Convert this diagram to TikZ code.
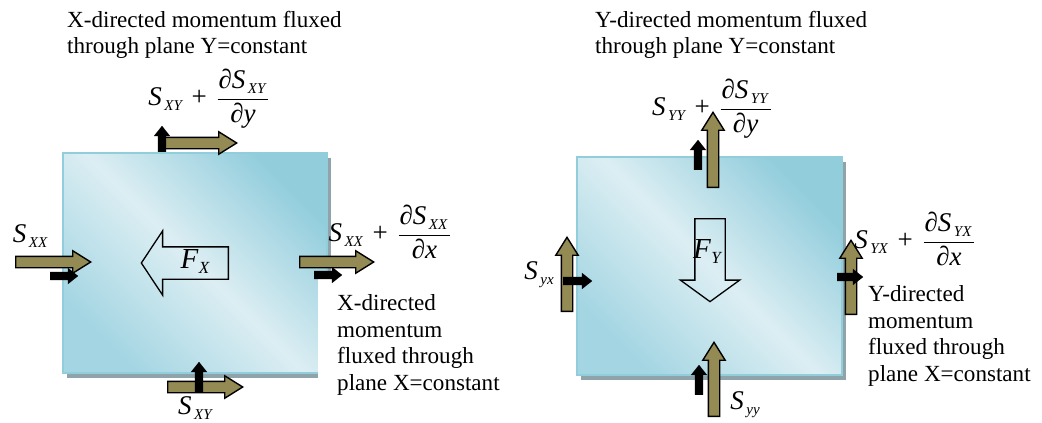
\documentclass[tikz,border=0pt]{standalone}
\usepackage{fontspec}
\setmainfont{Liberation Serif}
\usetikzlibrary{shapes.arrows,shadows}
\definecolor{olivefill}{HTML}{948A54}
\definecolor{boxdark}{HTML}{92CDDC}
\definecolor{boxlight}{HTML}{DCEEF3}
\definecolor{boxbl}{HTML}{A3D5E2}
\definecolor{shadowgray}{HTML}{8FA3AB}
\newcommand\Sb[1]{\kern2.5pt\raisebox{-5pt}{\fontsize{15}{15}\selectfont\itshape #1}}
\newcommand\Fb[1]{\kern0.5pt\raisebox{-5pt}{\fontsize{17}{17}\selectfont\itshape #1}}
\newcommand\frml[2]{$\displaystyle\mbox{\itshape S\Sb{#1}}\,\mathbin{\mbox{+}}\,\frac{\mbox{\kern1pt\itshape ∂S\Sb{#1}\kern3pt}}{\mbox{\itshape ∂#2}}$}
\tikzset{
  fluxarrow/.style={single arrow, draw=black, line width=1.4pt, fill=olivefill,
    minimum height=#1, minimum width=21pt, single arrow head extend=5.5pt,
    inner sep=5pt, single arrow tip angle=64, anchor=tail},
  miniarrow/.style={single arrow, fill=black, minimum height=#1, minimum width=16pt,
    single arrow head extend=4pt, inner sep=4pt, single arrow tip angle=77, anchor=tail},
  forcearrow/.style={single arrow, draw=black, line width=1.3pt, minimum height=#1,
    minimum width=63pt, single arrow head extend=16pt, inner sep=15.5pt,
    single arrow tip angle=113, anchor=tail},
  cvbox/.style={rectangle, draw=boxdark, line width=1.5pt,
    drop shadow={shadow xshift=4pt, shadow yshift=-5pt, fill=shadowgray, opacity=1},
    bottom color=boxbl, top color=boxdark, middle color=boxlight, shading angle=-45},
  lbl/.style={inner sep=0pt, font=\fontsize{27}{30}\selectfont},
  flbl/.style={inner sep=0pt, font=\fontsize{29}{30}\selectfont},
  txt/.style={align=left, font=\fontsize{23.1}{26.5}\selectfont},
}
\begin{document}
\begin{tikzpicture}[x=1pt,y=-1pt]
\useasboundingbox (0,0) rectangle (1042,423);
% ---------- left panel ----------
\node[cvbox, minimum width=264pt, minimum height=220pt] (lbox) at (195,263) {};
\node[txt, anchor=north west, inner sep=0pt] (ltitle) at (67,11)
  {X-directed momentum fluxed\\through plane Y=constant};
\node[txt, anchor=north west, fill=white, inner xsep=19pt, inner ysep=22.5pt] (ldesc) at (318,272)
  {X-directed\\momentum\\fluxed through\\plane X=constant};
\node[fluxarrow=73] (tx) at (163,143) {};
\node[miniarrow=26, rotate=90] (tb) at (162,152) {};
\node[fluxarrow=75] (lx) at (15,262) {};
\node[miniarrow=28] (lb) at (50,276) {};
\node[fluxarrow=74] (rx) at (299,262) {};
\node[miniarrow=28] (rb) at (314,275) {};
\node[fluxarrow=75] (bx) at (167,387) {};
\node[miniarrow=30, rotate=90] (bb) at (199,392) {};
\node[forcearrow=87, rotate=180] (fx) at (229,263) {};
\node[flbl] (fxl) at (195,262) {\itshape F\Fb{X}};
\node[lbl] (ltl) at (209,99) {\frml{XY}{y}};
\node[lbl] (lll) at (30,236) {\itshape S\Sb{XX}};
\node[lbl] (lrl) at (390,232) {\frml{XX}{x}};
\node[lbl] (lbl1) at (195,408) {\itshape S\Sb{XY}};
% ---------- right panel ----------
\node[cvbox, minimum width=265pt, minimum height=218pt] (rbox) at (709.5,266) {};
\node[txt, anchor=north west, inner sep=0pt] (rtitle) at (595,11)
  {Y-directed momentum fluxed\\through plane Y=constant};
\node[txt, anchor=north west, inner sep=0pt] (rdesc) at (868,285.5)
  {Y-directed\\momentum\\fluxed through\\plane X=constant};
\node[fluxarrow=75, rotate=90] (ty) at (713,188) {};
\node[miniarrow=30, rotate=90] (tyb) at (698,170) {};
\node[forcearrow=83, rotate=-90, inner sep=14.5pt, single arrow head extend=14.5pt,
  minimum width=58pt, single arrow tip angle=108] (fy) at (710,218) {};
\node[flbl] (fyl) at (707,252) {\itshape F\Fb{Y}};
\node[fluxarrow=74, rotate=90] (ly) at (567,312) {};
\node[miniarrow=29] (lyb) at (563,281) {};
\node[fluxarrow=74, rotate=90] (by) at (714,417) {};
\node[miniarrow=30, rotate=90] (byb) at (699,395) {};
\node[fluxarrow=74, rotate=90] (ry) at (851,315) {};
\node[miniarrow=26] (ryb) at (837,277) {};
\node[lbl] (rtl) at (712,109) {\frml{YY}{y}};
\node[lbl] (rll) at (539,275) {\itshape S\Sb{yx}};
\node[lbl] (rbl) at (745,405) {\itshape S\Sb{yy}};
\node[lbl] (rrl) at (915,239) {\frml{YX}{x}};
\end{tikzpicture}
\end{document}
